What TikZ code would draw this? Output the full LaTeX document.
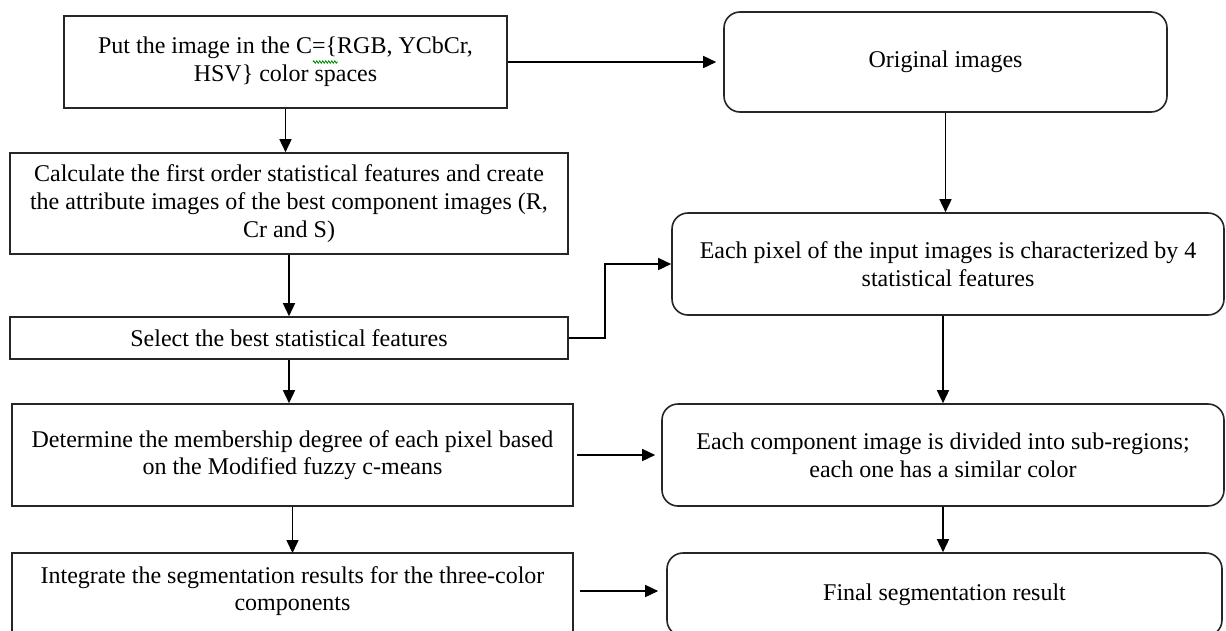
\documentclass[tikz,border=0pt]{standalone}
\usepackage{fontspec}
\setmainfont{Liberation Serif}
\usetikzlibrary{arrows.meta,decorations.pathmorphing}
\begin{document}
\begin{tikzpicture}[x=1pt,y=-1pt,
  basefont/.style={font=\fontsize{24}{27.6}\selectfont},
  sqbox/.style={draw=black!85, line width=1.6pt, align=center, inner sep=0pt, basefont},
  rbox/.style={sqbox, rounded corners=16pt},
  txt/.style={align=center, inner sep=0pt, basefont},
  arr/.style={draw=black, line width=1.5pt, -{Triangle[length=13pt,width=12pt]}}]
\useasboundingbox (0,0) rectangle (1226,630);
\fill[white] (0,0) rectangle (1226,630);
\clip (0,0) rectangle (1226,630);

% left column
\node[sqbox, minimum width=443, minimum height=92] (b1) at (285.5,62)
  {Put the image in the C=\{RGB, YCbCr,\\HSV\} color spaces};
\node[sqbox, minimum width=558, minimum height=101] (b2) at (289,203.5)
  {Calculate the first order statistical features and create\\the attribute images of the best component images (R,\\Cr and S)};
\node[sqbox, minimum width=558, minimum height=42] (b3) at (289,338)
  {Select the best statistical features};
\node[sqbox, minimum width=561, minimum height=102] (b4) at (292.5,455)
  {Determine the membership degree of each pixel based\\on the Modified fuzzy c-means};
\draw[draw=black!85, line width=1.6pt] (12,553) rectangle (573,660);
\coordinate (b5top) at (292.5,553);
\node[txt, minimum width=561] (b5) at (292.5,591)
  {Integrate the segmentation results for the three-color\\components};

% right column
\node[rbox, minimum width=443, minimum height=100] (orig) at (945.5,62)
  {\raisebox{-5pt}{Original images}};
\node[rbox, minimum width=552, minimum height=102] (pix) at (948,264)
  {Each pixel of the input images is characterized by 4\\statistical features};
\node[rbox, minimum width=562, minimum height=102] (comp) at (943,455)
  {Each component image is divided into sub-regions;\\each one has a similar color};
\node[rbox, minimum width=555, minimum height=83] (fin) at (944.5,594.5)
  {Final segmentation result};

% spell-check squiggle
\draw[green!55!black, line width=0.8pt, decorate, decoration={zigzag, segment length=3pt, amplitude=1.2pt}]
  (313,62) -- (338,62);

% connectors
\draw[arr, shorten >=7pt] (b1.east) -- (orig.west);
\draw[arr] (b1.south) -- (b1.south |- b2.north);
\draw[arr] (b2.south) -- (b2.south |- b3.north);
\draw[arr] (b3.south) -- (b3.south |- b4.north);
\draw[arr] (b4.south) -- (b4.south |- b5top);
\draw[arr] (b3.east) -- ++(36,0) |- (pix.west);
\draw[arr] (orig.south) -- (orig.south |- pix.north);
\draw[arr] (comp.north |- pix.south) -- (comp.north);
\draw[arr] (comp.south) -- (comp.south |- fin.north);
\draw[arr, shorten <=3pt, shorten >=6pt] (b4.east) -- (comp.west);
\draw[arr, shorten <=7pt, shorten >=8pt] (b5.east) -- (b5.east -| fin.west);
\end{tikzpicture}
\end{document}
